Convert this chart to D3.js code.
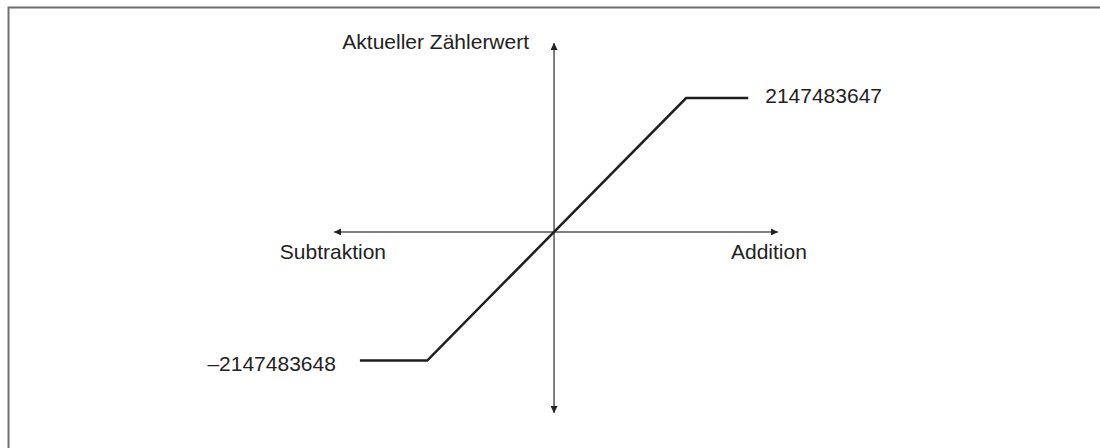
<!DOCTYPE html>
<html lang="de">
<head>
  <meta charset="UTF-8" />
  <title>Zählerwert</title>
  <script src="https://d3js.org/d3.v7.min.js"></script>
  <style>
    body { margin: 0; background: #fff; }
    svg text { font-family: "Liberation Sans", Arial, sans-serif; font-size: 21px; fill: #222; }
  </style>
</head>
<body>
  <svg width="1100" height="448"></svg>
  <script>
    // counter characteristic: x = count direction (subtract / add), y = counter value
    const curveX = [-1.5, -0.98, 1.02, 1.5];
    const curveY = [-0.98, -0.98, 1.02, 1.02];
    const xAxisExtent = [-1.7, 1.73];
    const yAxisExtent = [-1.38, 1.44];
    const maxLabel = "2147483647";
    const minLabel = "\u20132147483648";
    const yTitle = "Aktueller Zählerwert";
    const leftLabel = "Subtraktion";
    const rightLabel = "Addition";

    const svg = d3.select("svg");
    const x = d3.scaleLinear().domain(xAxisExtent).range([334, 778]);
    const y = d3.scaleLinear().domain(yAxisExtent).range([413, 43]);

    // cropped frame: only top and left edges show
    svg.append("path")
      .attr("d", "M8.5,448V7.5H1100")
      .attr("fill", "none")
      .attr("stroke", "#707070")
      .attr("stroke-width", 2);

    const defs = svg.append("defs");
    defs.append("marker")
      .attr("id", "arrow")
      .attr("viewBox", "0 0 10 10")
      .attr("refX", 10).attr("refY", 5)
      .attr("markerWidth", 7).attr("markerHeight", 7)
      .attr("markerUnits", "userSpaceOnUse")
      .attr("orient", "auto-start-reverse")
      .append("path")
      .attr("d", "M0,0L10,5L0,10Z")
      .attr("fill", "#222");

    // axes with arrows at both ends
    svg.append("line")
      .attr("x1", x(xAxisExtent[0])).attr("x2", x(xAxisExtent[1]))
      .attr("y1", y(0)).attr("y2", y(0))
      .attr("stroke", "#555").attr("stroke-width", 1.5)
      .attr("marker-start", "url(#arrow)").attr("marker-end", "url(#arrow)");
    svg.append("line")
      .attr("x1", x(0)).attr("x2", x(0))
      .attr("y1", y(yAxisExtent[0])).attr("y2", y(yAxisExtent[1]))
      .attr("stroke", "#555").attr("stroke-width", 1.5)
      .attr("marker-start", "url(#arrow)").attr("marker-end", "url(#arrow)");

    const pts = curveX.map((v, i) => [v, curveY[i]]);
    svg.append("path")
      .datum(pts)
      .attr("d", d3.line().x(d => x(d[0])).y(d => y(d[1])))
      .attr("fill", "none")
      .attr("stroke", "#1e1e1e")
      .attr("stroke-width", 2.5);

    svg.append("text")
      .attr("x", x(0) - 25).attr("y", y(yAxisExtent[1]) + 6)
      .attr("text-anchor", "end")
      .text(yTitle);
    svg.append("text")
      .attr("x", x(curveX[3]) + 17).attr("y", y(curveY[3]) + 5)
      .text(maxLabel);
    svg.append("text")
      .attr("x", x(curveX[0]) - 24).attr("y", y(curveY[0]) + 10)
      .attr("text-anchor", "end")
      .text(minLabel);
    svg.append("text")
      .attr("x", x(xAxisExtent[0]) + 52).attr("y", y(0) + 27)
      .attr("text-anchor", "end")
      .text(leftLabel);
    svg.append("text")
      .attr("x", x(xAxisExtent[1]) - 47).attr("y", y(0) + 27)
      .text(rightLabel);
  </script>
</body>
</html>
